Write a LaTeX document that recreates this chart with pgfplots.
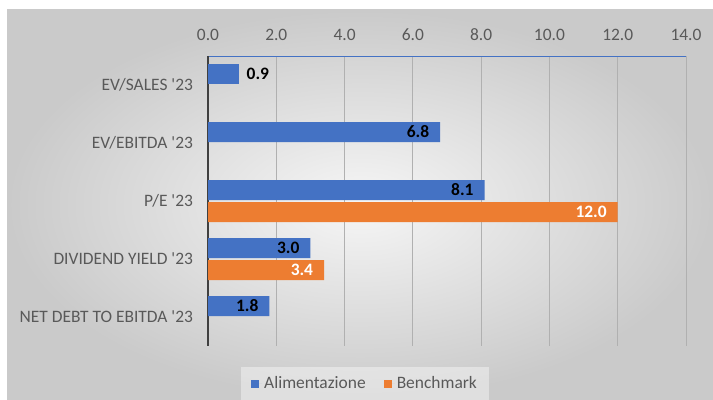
\documentclass[border=0pt]{standalone}
\usepackage{pgfplots}
\pgfplotsset{compat=1.18}
\usepackage{fontspec}
\setmainfont{Carlito}
\definecolor{cblue}{HTML}{4472C4}
\definecolor{corange}{HTML}{ED7D31}
\definecolor{ctext}{HTML}{595959}
\definecolor{cgrid}{HTML}{B0B0B0}
\definecolor{caxis}{HTML}{404040}
\newcommand{\fs}{\fontsize{17.5}{21}\selectfont}
\begin{document}
\fs
\begin{tikzpicture}[x=1bp,y=1bp]
\useasboundingbox (0,0) rectangle (713,399);
\fill[white] (0,0) rectangle (713,399);
\shade[inner color={rgb,255:red,246;green,246;blue,246}, outer color={rgb,255:red,202;green,202;blue,202}] (7,0) rectangle (713,389);
\begin{axis}[
  at={(208bp,53bp)}, anchor=south west,
  scale only axis, width=478bp, height=290bp,
  xbar, bar width=20bp,
  xmin=0, xmax=14, ymin=-0.5, ymax=4.5,
  y dir=reverse,
  xtick={0,2,...,14},
  ytick={0,1,2,3,4},
  yticklabels={EV/SALES \textquotesingle23, EV/EBITDA \textquotesingle23, P/E \textquotesingle23, DIVIDEND YIELD \textquotesingle23, NET DEBT TO EBITDA \textquotesingle23},
  axis x line*=top, axis y line*=left,
  axis line style={-},
  x axis line style={cblue, line width=1bp},
  y axis line style={caxis, line width=1.3bp},
  major tick length=0pt,
  xmajorgrids, grid style={cgrid, line width=0.9bp},
  /pgf/number format/.cd, fixed, fixed zerofill, precision=1, assume math mode=true,
  /pgfplots/.cd,
  ticklabel style={text=ctext, font=\fs},
  xticklabel style={yshift=9bp},
  yticklabel style={xshift=-9bp},
  legend style={at={(0.3285,-0.0724)}, anchor=north, draw=none, fill=white, fill opacity=0.4, text opacity=1, text=ctext, legend columns=2, inner xsep=10bp, inner ysep=7bp, font=\fs, /tikz/every even column/.append style={column sep=16bp}},
  legend cell align=left,
  legend image code/.code={\fill[#1,draw=none,fill opacity=1] (0bp,-4bp) rectangle (8bp,4bp); \path (0bp,0bp) -- (11bp,0bp);},
  nodes near coords={\pgfmathprintnumber[fixed,fixed zerofill,precision=1,assume math mode=true]{\pgfplotspointmeta}},
]
\addplot[fill=cblue, draw=none, bar shift=11bp, nodes near coords style={anchor=east, xshift=-5bp, text=black, font=\fs\bfseries}]
  coordinates {(6.8,1) (8.1,2) (3.0,3) (1.8,4)};
\addlegendentry{Alimentazione}
\addplot[fill=corange, draw=none, bar shift=-11bp, nodes near coords style={anchor=east, xshift=-5bp, text=white, font=\fs\bfseries}]
  coordinates {(12.0,2) (3.4,3)};
\addlegendentry{Benchmark}
\addplot[fill=cblue, draw=none, bar shift=11bp, forget plot, nodes near coords style={anchor=west, xshift=2bp, text=black, font=\fs\bfseries}]
  coordinates {(0.9,0)};
\end{axis}
\end{tikzpicture}
\end{document}
